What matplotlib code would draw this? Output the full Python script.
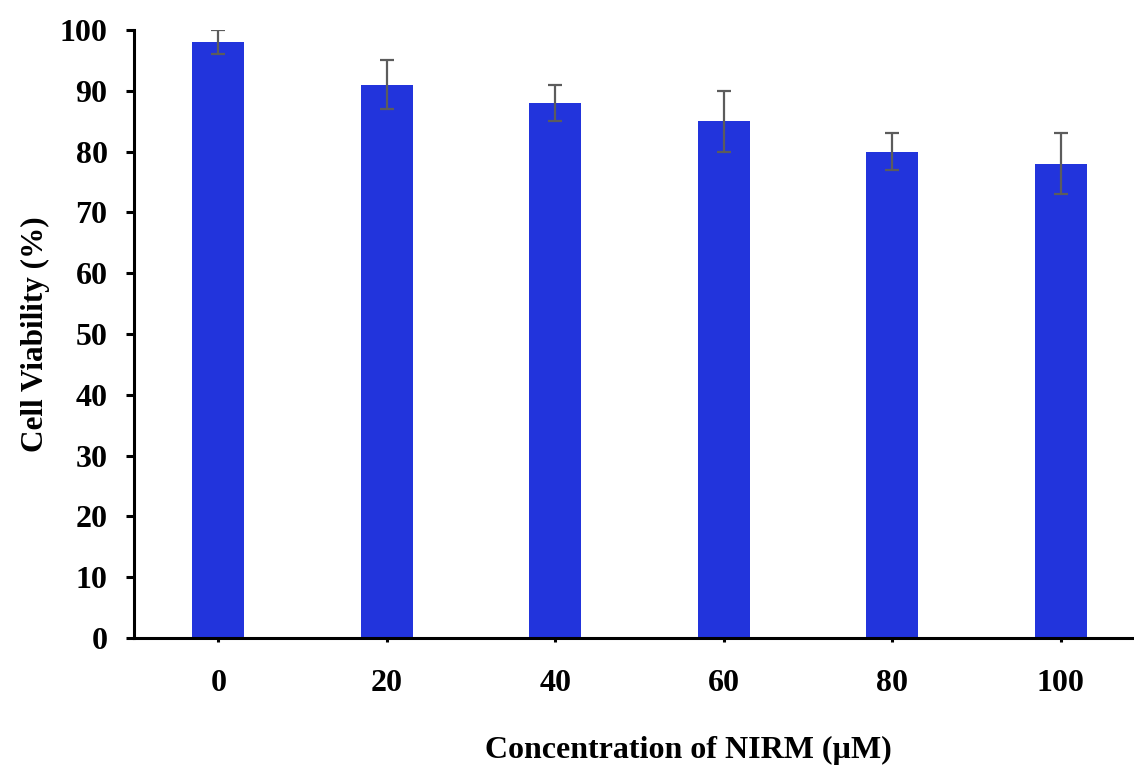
import numpy as np
import matplotlib
matplotlib.use("Agg")
from matplotlib import pyplot as plt

# data
concentrations = ["0", "20", "40", "60", "80", "100"]
viability = [98, 91, 88, 85, 80, 78]
errors = [2, 4, 3, 5, 3, 5]

plt.rcParams['font.family'] = ['Liberation Serif', 'DejaVu Serif']
plt.rcParams['font.weight'] = 'bold'

fig = plt.figure(figsize=(11.34, 7.66), dpi=100)
# axes deliberately runs past the right edge, like the original
ax = fig.add_axes([134/1134, 128/766, 1011/1134, 608/766])

x = np.arange(len(concentrations))
ax.bar(x, viability, width=0.31, color='#2234dc', zorder=2)
ax.errorbar(x, viability, yerr=errors, fmt='none', ecolor='#5c5c5c',
            elinewidth=1.6, capsize=4.7, capthick=1.6, zorder=3)

ax.set_xlim(-0.5, len(concentrations) - 0.5)
ax.set_ylim(0, 100)
ax.set_yticks(range(0, 101, 10))
ax.set_xticks(x)
ax.set_xticklabels(concentrations)

for s in ['top', 'right']:
    ax.spines[s].set_visible(False)
for s in ['left', 'bottom']:
    ax.spines[s].set_linewidth(2.2)

ax.tick_params(axis='y', direction='out', length=6, width=2.2, pad=13,
               labelsize=23)
ax.tick_params(axis='x', direction='out', length=3, width=2.2, pad=19,
               labelsize=23)
for lbl in ax.get_xticklabels() + ax.get_yticklabels():
    lbl.set_fontweight('bold')

# x label sits a bit right of the axis centre in the original
ax.set_xlabel("Concentration of NIRM (\u00b5M)", fontsize=23,
              fontweight='bold', labelpad=27.5, x=0.548)
ax.set_ylabel("Cell Viability (%)", fontsize=22.5, fontweight='bold',
              labelpad=7)

fig.savefig('out.png', dpi=100)
